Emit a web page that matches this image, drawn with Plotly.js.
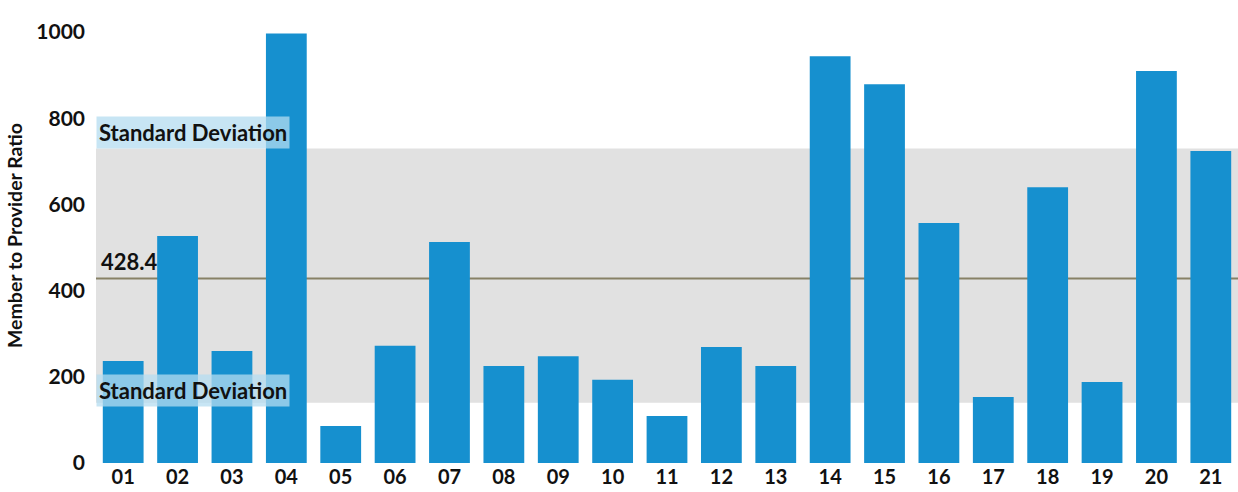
<!DOCTYPE html>
<html>
<head>
<meta charset="utf-8">
<script src="https://cdn.plot.ly/plotly-3.0.1.min.js"></script>
<style>html,body{margin:0;padding:0;background:#fff;}#chart{width:1238px;height:492px;}</style>
</head>
<body>
<div id="chart"></div>
<script>
var categories = ["01","02","03","04","05","06","07","08","09","10","11","12","13","14","15","16","17","18","19","20","21"];
var ratios = [237, 527, 260, 997, 86, 272, 513, 225, 248, 193, 109, 269, 225, 944, 879, 557, 153, 640, 188, 910, 724];
var meanValue = 428.4;
var sdLow = 140;
var sdHigh = 730;
var yTicks = [0, 200, 400, 600, 800, 1000];

var font = "Lato, 'Open Sans', sans-serif";

var trace = {
  type: "bar",
  x: categories,
  y: ratios,
  marker: {color: "#1690cf"},
  hoverinfo: "x+y"
};

var layout = {
  width: 1238,
  height: 492,
  margin: {l: 96, r: 0, t: 8, b: 29},
  paper_bgcolor: "#ffffff",
  plot_bgcolor: "#ffffff",
  bargap: 0.25,
  showlegend: false,
  font: {family: font, color: "#111", size: 18},
  xaxis: {
    type: "category",
    showgrid: false,
    zeroline: false,
    showline: false,
    ticks: "",
    ticklabelstandoff: 0,
    tickfont: {family: font, size: 20, color: "#111", weight: "bold"},
    automargin: false
  },
  yaxis: {
    range: [0, 1056],
    tickvals: yTicks,
    ticktext: yTicks.map(String),
    showgrid: false,
    zeroline: false,
    showline: false,
    ticks: "",
    ticklabelstandoff: 10,
    tickfont: {family: font, size: 21, color: "#111", weight: "bold"},
    title: {text: "Member to Provider Ratio", font: {family: font, size: 19.5, color: "#111", weight: "bold"}, standoff: 8},
    automargin: false
  },
  shapes: [
    {type: "rect", layer: "below", xref: "paper", x0: 0, x1: 1, yref: "y", y0: sdLow, y1: sdHigh,
     fillcolor: "#e1e1e1", line: {width: 0}},
    {type: "line", layer: "below", xref: "paper", x0: 0, x1: 1, yref: "y", y0: meanValue, y1: meanValue,
     line: {color: "#878166", width: 2}}
  ],
  annotations: [
    {xref: "paper", x: 0, xanchor: "left", yref: "y", y: 766, yanchor: "middle",
     text: "<b>Standard Deviation</b>", showarrow: false, bgcolor: "rgba(180,220,240,0.75)",
     font: {family: font, size: 22, color: "#111"}, borderpad: 2},
    {xref: "paper", x: 0, xanchor: "left", yref: "y", y: 169, yanchor: "middle",
     text: "<b>Standard Deviation</b>", showarrow: false, bgcolor: "rgba(180,220,240,0.75)",
     font: {family: font, size: 22, color: "#111"}, borderpad: 2},
    {xref: "paper", x: 0.003, xanchor: "left", yref: "y", y: meanValue, yanchor: "bottom", yshift: 1,
     text: "<b>" + meanValue.toFixed(1) + "</b>", showarrow: false,
     font: {family: font, size: 22, color: "#111"}}
  ]
};

Plotly.newPlot("chart", [trace], layout, {displayModeBar: false, staticPlot: true});
</script>
</body>
</html>
